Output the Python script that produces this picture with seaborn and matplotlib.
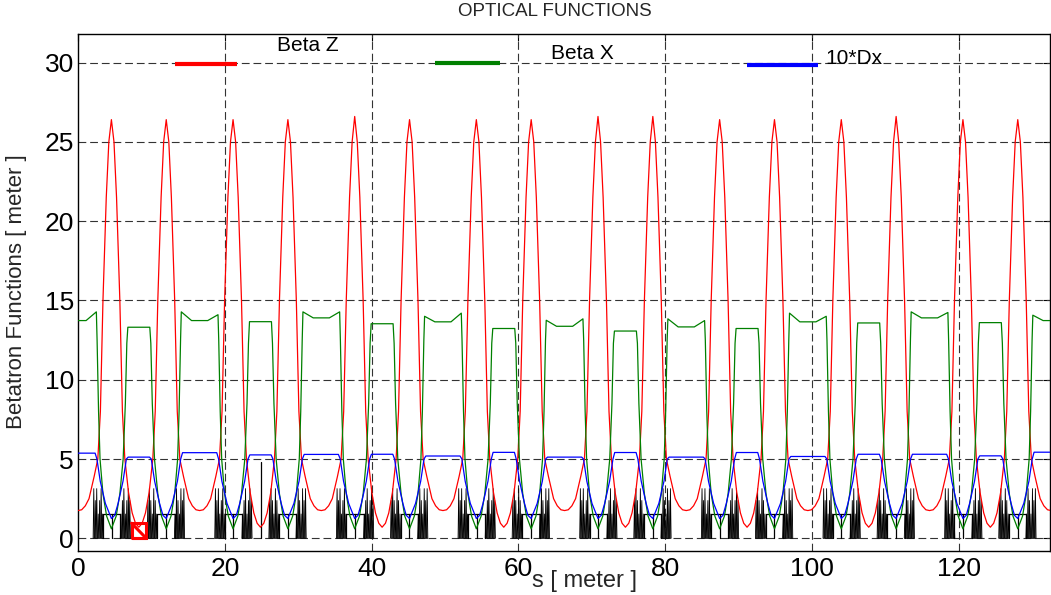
import numpy as np
import pandas as pd
import matplotlib
matplotlib.use("Agg")
import matplotlib.pyplot as plt
import seaborn as sns

sns.set_theme(style="white")
plt.rcParams["font.family"] = ["Liberation Sans", "DejaVu Sans"]

# ---------------------------------------------------------------- lattice
n_cells = 8
cell_length = 16.57          # superperiod length [m]
s_max = 132.4

# Beta Z over half a superperiod; b = distance from the straight-section centre
bz_b = [0.0, 0.5, 1.0, 1.5, 2.2, 2.7, 3.05, 3.4, 3.85, 4.2, 4.55,
        4.9, 5.25, 5.7, 6.05, 6.38, 6.88, 7.38, 7.83, 8.285]
bz_v = [1.75, 1.8, 2.05, 2.5, 3.9, 5.0, 8.0, 15.0, 21.5, 25.0, np.nan,
        25.0, 21.5, 15.0, 8.0, 5.0, 2.9, 1.6, 0.95, 0.7]
bz_peak = [26.4, 26.4, 26.4, 26.4, 26.6, 26.4, 26.4, 26.4,
           26.6, 26.6, 26.4, 26.4, 26.4, 26.6, 26.4, 26.4]

# Beta X over half a superperiod (None = plateau level given per cell)
gx_b = [0.0, 1.1, 2.5, 2.6, 2.8, 3.0, 3.4, 3.9, 4.55,
        5.2, 5.7, 6.15, 6.45, 6.65, 6.79, 8.285]
gx_v = [None, None, None, 12.5, 8.0, 5.0, 2.8, 1.4, 0.6,
        1.4, 2.8, 5.0, 8.5, 12.3, None, None]
gx_gap_mid = [13.73, 13.73, 13.90, 13.65, 13.37, 13.33, 13.65, 13.90, 13.73]
gx_edge_in = [14.28, 14.10, 14.28, 14.20, 13.84, 13.73, 14.00, 14.24]
gx_edge_out = [14.28, 14.28, 14.00, 13.75, 13.84, 14.20, 14.28, 14.07]
gx_centre = [13.31, 13.66, 13.53, 13.23, 13.07, 13.23, 13.58, 13.60]

# 10*Dx over half a superperiod
dx_b = [0.0, 2.33, 2.58, 3.03, 3.73, 4.55, 5.0, 5.46, 6.13, 6.59, 6.83, 8.285]
dx_v = [None, None, 5.0, 3.6, 2.2, 1.25, 1.45, 2.2, 3.6, 5.0, None, None]
dx_gap = [5.37, 5.40, 5.29, 5.19, 5.12, 5.12, 5.16, 5.30, 5.43]
dx_centre = [5.12, 5.26, 5.30, 5.42, 5.41, 5.41, 5.30, 5.20]

# magnet synoptic over half a superperiod
quad_b = [2.15, 2.35, 2.55, 2.75, 2.95, 3.15, 3.35,
          5.85, 6.05, 6.25, 6.45, 6.65, 6.85, 7.05]
quad_h = [3.15, 2.4, 3.15, 1.55, 2.4, 3.15, 1.55,
          1.55, 2.4, 3.15, 1.55, 2.4, 3.15, 2.4]
bend_b = [3.4, 5.75]
bend_h = 1.55
kicker_s = 24.9
kicker_h = 4.8
marker_s = [7.3, 9.3]
marker_h = 0.95

legend_names = ["Beta Z", "Beta X", "10*Dx"]
colors = {"Beta Z": "#ff0000", "Beta X": "#008000", "10*Dx": "#0000ff"}


def assemble(b, left_rows, right_rows):
    s_out, v_out = [], []
    for k in range(n_cells):
        s0, s1 = k * cell_length, (k + 1) * cell_length
        s_out += [s0 + x for x in b]
        v_out += list(left_rows[k])
        s_out += [s1 - x for x in reversed(b[:-1])]
        v_out += list(reversed(right_rows[k][:-1]))
    return s_out, v_out


def fill(template, first, edge, centre):
    row = list(template)
    row[0], row[1], row[2] = first, first, edge
    row[-2], row[-1] = centre, centre
    return row


# Beta Z rows
bz_left, bz_right = [], []
for k in range(n_cells):
    l = list(bz_v); l[10] = bz_peak[2 * k]
    r = list(bz_v); r[10] = bz_peak[2 * k + 1]
    bz_left.append(l); bz_right.append(r)
s_bz, v_bz = assemble(bz_b, bz_left, bz_right)

gx_left = [fill(gx_v, gx_gap_mid[k], gx_edge_in[k], gx_centre[k]) for k in range(n_cells)]
gx_right = [fill(gx_v, gx_gap_mid[k + 1], gx_edge_out[k], gx_centre[k]) for k in range(n_cells)]
s_gx, v_gx = assemble(gx_b, gx_left, gx_right)

dx_left, dx_right = [], []
for k in range(n_cells):
    l = list(dx_v); l[0] = l[1] = dx_gap[k]; l[-2] = l[-1] = dx_centre[k]
    r = list(dx_v); r[0] = r[1] = dx_gap[k + 1]; r[-2] = r[-1] = dx_centre[k]
    dx_left.append(l); dx_right.append(r)
s_dx, v_dx = assemble(dx_b, dx_left, dx_right)

df = pd.concat([
    pd.DataFrame({"s": s_bz, "value": v_bz, "curve": "Beta Z"}),
    pd.DataFrame({"s": s_gx, "value": v_gx, "curve": "Beta X"}),
    pd.DataFrame({"s": s_dx, "value": v_dx, "curve": "10*Dx"}),
], ignore_index=True)

# ---------------------------------------------------------------- figure
fig = plt.figure(figsize=(10.51, 5.95), dpi=100)
ax = fig.add_axes([78 / 1051, 1 - 551 / 595, 972 / 1051, (551 - 34) / 595])
ax.set_xlim(0, s_max)
ax.set_ylim(-0.8, 31.8)

grid_kw = dict(color="#333333", lw=0.8, ls=(0, (7, 3.5)), zorder=1)
for y in range(0, 31, 5):
    ax.axhline(y, **grid_kw)
for x in range(20, 131, 20):
    ax.axvline(x, **grid_kw)

# magnet synoptic
for k in range(n_cells):
    s0, s1 = k * cell_length, (k + 1) * cell_length
    for sign, base in ((1, s0), (-1, s1)):
        for b, h in zip(quad_b, quad_h):
            x = base + sign * b
            ax.fill([x - 0.09, x, x + 0.09], [0, h, 0], facecolor="#808080",
                    edgecolor="black", lw=0.6, zorder=2)
        xa, xb = sorted([base + sign * bend_b[0], base + sign * bend_b[1]])
        ax.plot([xa, xa, xb, xb], [0, bend_h, bend_h, 0], color="black", lw=0.9, zorder=2)
        xc = base + sign * (bend_b[0] + bend_b[1]) / 2
        ax.plot([xc, xc], [0, bend_h], color="black", lw=0.9, zorder=2)
ax.plot([kicker_s, kicker_s], [0, kicker_h], color="black", lw=0.9, zorder=2)

sns.lineplot(data=df, x="s", y="value", hue="curve", palette=colors,
             hue_order=legend_names, sort=False, estimator=None,
             lw=0.9, legend=False, ax=ax, zorder=3)

# observation point
ax.plot([marker_s[0], marker_s[0], marker_s[1], marker_s[1], marker_s[0], marker_s[1]],
        [0, marker_h, marker_h, 0, 0, 0], color="#ff0000", lw=2.2, zorder=5,
        solid_joinstyle="miter")
ax.plot([marker_s[0], marker_s[1]], [marker_h, 0], color="#ff0000", lw=2.2, zorder=5)

# legend drawn inside the frame
leg_lines = {"Beta Z": (13.2, 21.65, 29.9), "Beta X": (48.6, 57.5, 29.95),
             "10*Dx": (91.1, 100.8, 29.85)}
leg_text = {"Beta Z": (27.1, 31.05), "Beta X": (64.4, 30.55), "10*Dx": (101.8, 30.25)}
for name in legend_names:
    x0, x1, y = leg_lines[name]
    ax.plot([x0, x1], [y, y], color=colors[name], lw=3, zorder=4,
            solid_capstyle="butt")
    tx, ty = leg_text[name]
    ax.text(tx, ty, name, fontsize=15, ha="left", va="center", color="black", zorder=6)

ax.set_xticks(range(0, 121, 20))
ax.set_yticks(range(0, 31, 5))
ax.tick_params(axis="both", direction="in", length=5, width=0.8, labelsize=19,
               top=True, right=True, colors="black", pad=4)
ax.tick_params(axis="y", pad=3)
ax.set_xlabel("")
ax.set_ylabel("")
for sp in ax.spines.values():
    sp.set_color("black")
    sp.set_linewidth(1.0)

fig.text(555 / 1051, 1 - 12 / 595, "OPTICAL FUNCTIONS", fontsize=13.5,
         ha="center", va="center")
fig.text(584 / 1051, 1 - 581 / 595, "s [ meter ]", fontsize=17,
         ha="center", va="center")
fig.text(17 / 1051, 1 - 292 / 595, "Betatron Functions [ meter ]", fontsize=16,
         ha="center", va="center", rotation=90)

fig.savefig("out.png", dpi=100)
